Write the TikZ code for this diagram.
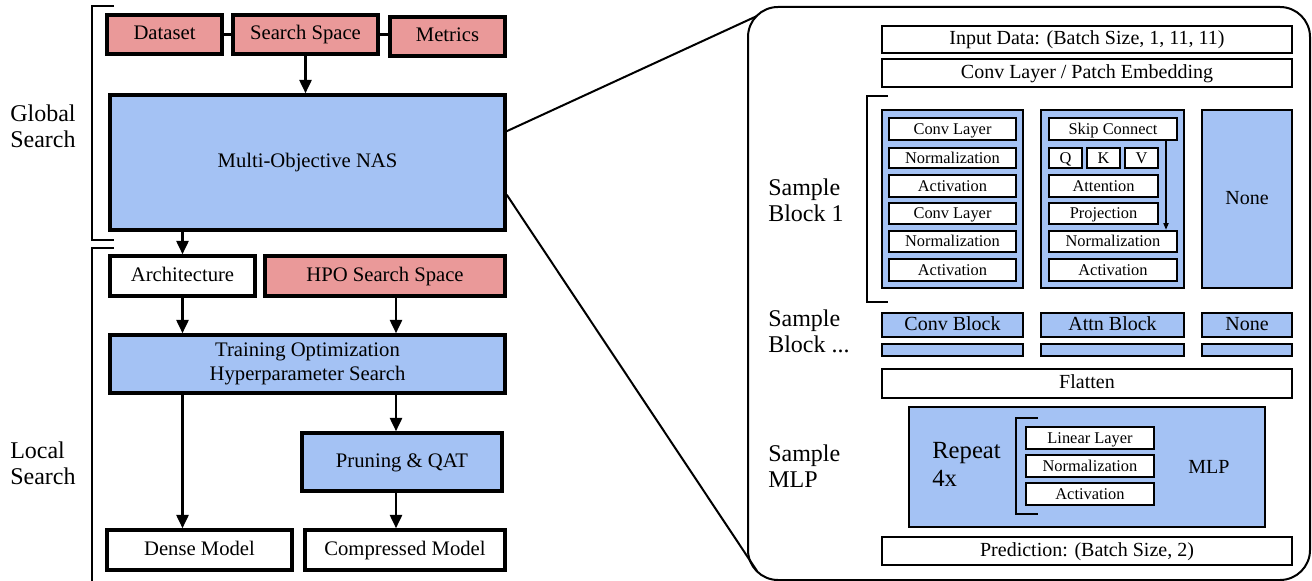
\documentclass[tikz,border=0pt]{standalone}
\usepackage{fontspec}
\setmainfont{Liberation Serif}
\usetikzlibrary{arrows.meta,calc}
\definecolor{pinkf}{HTML}{EA9999}
\definecolor{bluef}{HTML}{A4C2F4}
\newcommand\bx[7]{\node[#6, minimum width={(#4-#2)*0.75pt}, minimum height={(#5-#3)*0.75pt}] (#1) at ({(#2+#4)/2},{(#3+#5)/2}) {#7};}
\tikzset{
  cen/.style={text height=0.8em, text depth=0em},
  lbase/.style={draw, line width=2.6pt, fill=white, inner sep=0pt, align=center, font=\fontsize{15.5}{18}\selectfont},
  lbox/.style={lbase, cen},
  pinkbox/.style={lbox, fill=pinkf},
  bluebox/.style={lbox, fill=bluef},
  bluemulti/.style={lbase, fill=bluef},
  rbox/.style={draw, line width=2.2pt, fill=white, inner sep=0pt, cen, font=\fontsize{15}{18}\selectfont},
  rblue/.style={rbox, fill=bluef},
  grp/.style={draw, line width=2.2pt, fill=bluef, inner sep=0pt},
  sbox/.style={draw, line width=2pt, fill=white, inner sep=0pt, cen, font=\fontsize{12.3}{14}\selectfont},
  lab/.style={anchor=west, align=left, inner sep=0pt, font=\fontsize{18}{19.5}\selectfont},
  arr/.style={line width=1.9pt, -{Triangle[length=10pt,width=9pt]}},
  thinarr/.style={line width=0.8pt, -{Triangle[length=5pt,width=4pt]}},
  brk/.style={line width=1.5pt},
  conn/.style={line width=1.5pt},
  link/.style={line width=2.6pt},
}
\begin{document}
\begin{tikzpicture}[x=0.75pt,y=-0.75pt]
\useasboundingbox (0,0) rectangle (1312,581);
% ---------------- left part ----------------
\node[lab] (gl) at (10,126) {Global\\Search};
\node[lab] (ll) at (10,463) {Local\\Search};
\draw[brk] (114,6) -- (92,6) -- (92,240) -- (114,240);
\draw[brk] (114,248) -- (92,248) -- (92,590);

\bx{ds}{107}{15}{222}{54}{pinkbox}{Dataset}
\bx{ss}{233}{15}{378}{54}{pinkbox}{Search Space}
\bx{met}{390}{17}{505}{56}{pinkbox}{Metrics}
\draw[link] (ds.east) -- (ss.west);
\draw[link] (ss.east) -- (ss.east -| met.west);
\bx{nas}{110}{95}{505}{230}{bluebox}{Multi-Objective NAS}
\bx{arch}{110}{256}{255}{296}{lbox}{Architecture}
\bx{hpo}{265}{256}{505}{296}{pinkbox}{HPO Search Space}
\bx{train}{110}{335}{505}{393}{bluemulti}{Training Optimization\\Hyperparameter Search}
\bx{pq}{302}{433}{502}{491}{bluebox}{Pruning \& QAT}
\bx{dense}{107}{530}{292}{570}{lbox}{Dense Model}
\bx{cmp}{305}{530}{505}{570}{lbox}{Compressed Model}

\coordinate (cx) at (396,0);
\draw[arr] (ss.south) -- (ss.south |- nas.north);
\draw[arr] (arch.north |- nas.south) -- (arch.north);
\draw[arr] (arch.south) -- (arch.south |- train.north);
\draw[arr] (hpo.south -| cx) -- (train.north -| cx);
\draw[arr] (train.south -| cx) -- (pq.north -| cx);
\draw[arr] (pq.south -| cx) -- (cmp.north -| cx);
\draw[arr] (train.south -| arch.south) -- (dense.north -| arch.south);

% ---------------- panel ----------------
\bx{panel}{748}{7}{1310}{580}{draw, line width=1.5pt, rounded corners=22.5pt, inner sep=0pt}{}
\coordinate (n1) at ($(nas.north east)!0.274!(nas.south east)$);
\coordinate (n2) at ($(nas.north east)!0.733!(nas.south east)$);
\coordinate (t1) at (757,16);
\coordinate (t2) at (757,571);
\draw[conn] (n1) -- (t1);
\draw[conn] (n2) -- (t2);

\node[lab] (sb1) at (768,200) {Sample\\Block 1};
\node[lab] (sb2) at (768,331) {Sample\\Block ...};
\node[lab] (smlp) at (768,466) {Sample\\MLP};

\bx{inp}{882}{26}{1292}{53}{rbox}{Input Data: (Batch Size, 1, 11, 11)}
\bx{cpe}{882}{59}{1292}{87}{rbox}{Conv Layer / Patch Embedding}
\draw[brk] (888,96) -- (867,96) -- (867,302) -- (888,302);

\bx{cg}{882}{110}{1023}{288}{grp}{}
\bx{c1}{889}{118}{1016}{140}{sbox}{Conv Layer}
\bx{c2}{889}{148}{1016}{168}{sbox}{Normalization}
\bx{c3}{889}{175}{1016}{197}{sbox}{Activation}
\bx{c4}{889}{203}{1016}{224}{sbox}{Conv Layer}
\bx{c5}{889}{231}{1016}{252}{sbox}{Normalization}
\bx{c6}{889}{259}{1016}{281}{sbox}{Activation}

\bx{ag}{1041}{110}{1184}{288}{grp}{}
\bx{skip}{1049}{118}{1177}{140}{sbox}{Skip Connect}
\bx{q}{1049}{148}{1082}{168}{sbox}{Q}
\bx{k}{1087}{148}{1120}{168}{sbox}{K}
\bx{v}{1125}{148}{1158}{168}{sbox}{V}
\bx{att}{1049}{175}{1158}{197}{sbox}{Attention}
\bx{proj}{1049}{203}{1158}{224}{sbox}{Projection}
\bx{an}{1049}{231}{1177}{252}{sbox}{Normalization}
\bx{aa}{1049}{259}{1177}{281}{sbox}{Activation}
\coordinate (sx) at (1166,0);
\draw[thinarr] (skip.south -| sx) -- (an.north -| sx);

\bx{nb}{1202}{110}{1292}{288}{rblue}{None}

\bx{cb}{882}{313}{1023}{337}{rblue}{Conv Block}
\bx{cbb}{882}{344}{1023}{356}{rblue}{}
\bx{ab}{1041}{313}{1184}{337}{rblue}{Attn Block}
\bx{abb}{1041}{344}{1184}{356}{rblue}{}
\bx{nn}{1202}{313}{1292}{337}{rblue}{None}
\bx{nnb}{1202}{344}{1292}{356}{rblue}{}

\bx{fl}{882}{369}{1292}{398}{rbox}{Flatten}
\bx{mlp}{909}{407}{1265}{527}{rblue}{}
\node[anchor=west, align=left, inner sep=0pt, font=\fontsize{18.5}{21}\selectfont] (rep) at (932,464) {Repeat\\4x};
\draw[brk] (1038,418) -- (1016,418) -- (1016,514) -- (1038,514);
\bx{ml1}{1026}{427}{1154}{449}{sbox}{Linear Layer}
\bx{ml2}{1026}{455}{1154}{477}{sbox}{Normalization}
\bx{ml3}{1026}{483}{1154}{505}{sbox}{Activation}
\node[inner sep=0pt, cen, font=\fontsize{15}{18}\selectfont] (mlpt) at (1209,468) {MLP};
\bx{pred}{882}{537}{1292}{565}{rbox}{Prediction: (Batch Size, 2)}
\end{tikzpicture}
\end{document}
